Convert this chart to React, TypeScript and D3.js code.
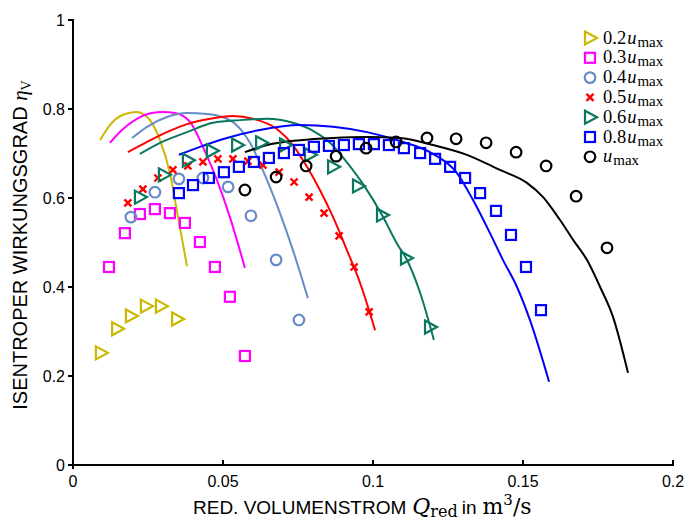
import React from "react";
import * as d3 from "d3";

// ---- data ----
const xTicks = [0, 0.05, 0.1, 0.15, 0.2];
const xTickLabels = ["0", "0.05", "0.1", "0.15", "0.2"];
const yTicks = [0, 0.2, 0.4, 0.6, 0.8, 1];
const yTickLabels = ["0", "0.2", "0.4", "0.6", "0.8", "1"];

const legendLabels = ["0.2", "0.3", "0.4", "0.5", "0.6", "0.8", ""];

// 0.2 u_max
const m02x = [0.0093, 0.0147, 0.0193, 0.0243, 0.0293, 0.0347];
const m02y = [0.252, 0.306, 0.335, 0.357, 0.357, 0.328];
const l02x = [0.009, 0.0123, 0.0167, 0.021, 0.0247, 0.029, 0.0323, 0.035, 0.038];
const l02y = [0.73, 0.764, 0.787, 0.793, 0.782, 0.73, 0.656, 0.557, 0.447];

// 0.3 u_max
const m03x = [0.012, 0.0173, 0.0223, 0.0273, 0.0323, 0.0373, 0.0423, 0.0473, 0.0523, 0.0573];
const m03y = [0.445, 0.521, 0.564, 0.575, 0.566, 0.544, 0.501, 0.445, 0.378, 0.245];
const l03x = [0.0123, 0.0163, 0.0213, 0.0263, 0.03, 0.034, 0.039, 0.0433, 0.048, 0.0523, 0.0573];
const l03y = [0.724, 0.753, 0.778, 0.791, 0.793, 0.791, 0.771, 0.715, 0.64, 0.557, 0.443];

// 0.4 u_max
const m04x = [0.0193, 0.0273, 0.0353, 0.0433, 0.0517, 0.0593, 0.0677, 0.0753];
const m04y = [0.557, 0.613, 0.643, 0.645, 0.625, 0.56, 0.461, 0.326];
const l04x = [0.0197, 0.0247, 0.0313, 0.038, 0.0447, 0.0523, 0.059, 0.0647, 0.069, 0.0733, 0.0783];
const l04y = [0.735, 0.76, 0.782, 0.791, 0.789, 0.775, 0.724, 0.64, 0.566, 0.483, 0.375];

// 0.5 u_max
const m05x = [0.0183, 0.0233, 0.0283, 0.0333, 0.0383, 0.0433, 0.0483, 0.0533, 0.0583, 0.0633, 0.0687, 0.0737, 0.0787, 0.0837, 0.0887, 0.0937, 0.0987];
const m05y = [0.589, 0.62, 0.645, 0.663, 0.672, 0.681, 0.688, 0.688, 0.683, 0.674, 0.658, 0.636, 0.602, 0.566, 0.515, 0.445, 0.344];
const l05x = [0.0183, 0.0247, 0.0313, 0.038, 0.0457, 0.0533, 0.06, 0.068, 0.0733, 0.078, 0.0823, 0.0867, 0.0913, 0.0957, 0.1007];
const l05y = [0.703, 0.726, 0.748, 0.766, 0.778, 0.784, 0.778, 0.755, 0.719, 0.67, 0.618, 0.557, 0.483, 0.409, 0.303];

// 0.6 u_max
const m06x = [0.0223, 0.0303, 0.0383, 0.0463, 0.0547, 0.0627, 0.0707, 0.079, 0.0867, 0.095, 0.103, 0.111, 0.119];
const m06y = [0.602, 0.652, 0.685, 0.706, 0.719, 0.724, 0.719, 0.697, 0.67, 0.627, 0.562, 0.465, 0.31];
const l06x = [0.0223, 0.029, 0.038, 0.0467, 0.0557, 0.0647, 0.0733, 0.08, 0.0857, 0.0907, 0.0973, 0.103, 0.1083, 0.111, 0.1157, 0.1203];
const l06y = [0.699, 0.724, 0.748, 0.769, 0.775, 0.778, 0.769, 0.751, 0.724, 0.685, 0.625, 0.562, 0.494, 0.465, 0.387, 0.281];

// 0.8 u_max
const m08x = [0.0353, 0.04, 0.0453, 0.0503, 0.0553, 0.0603, 0.0653, 0.0703, 0.0753, 0.0803, 0.0853, 0.0903, 0.0953, 0.1003, 0.1053, 0.1103, 0.1157, 0.1207, 0.1257, 0.1307, 0.1357, 0.141, 0.146, 0.151, 0.156];
const m08y = [0.611, 0.629, 0.645, 0.658, 0.67, 0.681, 0.69, 0.701, 0.708, 0.715, 0.717, 0.719, 0.721, 0.721, 0.719, 0.712, 0.701, 0.688, 0.67, 0.645, 0.611, 0.571, 0.517, 0.445, 0.348];
const l08x = [0.0353, 0.0423, 0.0513, 0.0623, 0.0757, 0.0867, 0.098, 0.109, 0.12, 0.128, 0.1333, 0.139, 0.1433, 0.148, 0.1523, 0.1587];
const l08y = [0.697, 0.715, 0.735, 0.753, 0.764, 0.76, 0.748, 0.728, 0.699, 0.656, 0.596, 0.521, 0.461, 0.4, 0.326, 0.187];

// u_max
const m10x = [0.0573, 0.0677, 0.0777, 0.0877, 0.0977, 0.1077, 0.118, 0.1277, 0.1377, 0.1477, 0.1577, 0.1677, 0.178];
const m10y = [0.618, 0.647, 0.672, 0.694, 0.712, 0.726, 0.735, 0.733, 0.724, 0.703, 0.672, 0.604, 0.488];
const l10x = [0.0573, 0.0647, 0.0757, 0.0867, 0.098, 0.109, 0.12, 0.1313, 0.1423, 0.1513, 0.1567, 0.1623, 0.1667, 0.1713, 0.1757, 0.18, 0.185];
const l10y = [0.703, 0.719, 0.73, 0.735, 0.737, 0.735, 0.719, 0.697, 0.663, 0.634, 0.602, 0.551, 0.506, 0.461, 0.4, 0.333, 0.207];

type Marker = "tri" | "sq" | "circ" | "x";
const series: { mx: number[]; my: number[]; lx: number[]; ly: number[]; color: string; marker: Marker }[] = [
  { mx: m02x, my: m02y, lx: l02x, ly: l02y, color: "#cbb800", marker: "tri" },
  { mx: m03x, my: m03y, lx: l03x, ly: l03y, color: "#ff00ff", marker: "sq" },
  { mx: m04x, my: m04y, lx: l04x, ly: l04y, color: "#668cc8", marker: "circ" },
  { mx: m05x, my: m05y, lx: l05x, ly: l05y, color: "#ff0000", marker: "x" },
  { mx: m06x, my: m06y, lx: l06x, ly: l06y, color: "#0a7860", marker: "tri" },
  { mx: m08x, my: m08y, lx: l08x, ly: l08y, color: "#0000ff", marker: "sq" },
  { mx: m10x, my: m10y, lx: l10x, ly: l10y, color: "#000000", marker: "circ" },
];

const W = 689;
const H = 522;
const x = d3.scaleLinear().domain([0, 0.2]).range([73, 673]);
const y = d3.scaleLinear().domain([0, 1]).range([465, 20]);

function MarkerShape({ kind, cx, cy, color }: { kind: Marker; cx: number; cy: number; color: string }) {
  const sw = 2.2;
  if (kind === "tri")
    return <path d={`M${cx - 5},${cy - 6.5}L${cx + 7},${cy}L${cx - 5},${cy + 6.5}Z`} fill="none" stroke={color} strokeWidth={sw} strokeLinejoin="miter" />;
  if (kind === "sq")
    return <rect x={cx - 5} y={cy - 5} width={10} height={10} fill="none" stroke={color} strokeWidth={sw} />;
  if (kind === "circ") return <circle cx={cx} cy={cy} r={5.3} fill="none" stroke={color} strokeWidth={sw} />;
  return (
    <path d={`M${cx - 3.5},${cy - 3.5}L${cx + 3.5},${cy + 3.5}M${cx - 3.5},${cy + 3.5}L${cx + 3.5},${cy - 3.5}`} stroke={color} strokeWidth={2.4} fill="none" />
  );
}

const sans = "'Liberation Sans', Arial, sans-serif";
const serif = "'Liberation Serif', 'DejaVu Serif', serif";
const mathFont = "'DejaVu Serif', 'Liberation Serif', serif";

export default function App() {
  const line = d3
    .line<[number, number]>()
    .x((d) => x(d[0]))
    .y((d) => y(d[1]))
    .curve(d3.curveMonotoneX);

  return (
    <svg width={W} height={H} style={{ position: "absolute", left: 0, top: 0, background: "#fff" }}>
      <rect width={W} height={H} fill="#fff" />
      {/* lines */}
      {series.map((s, i) => (
        <path key={"l" + i} d={line(s.lx.map((v, j) => [v, s.ly[j]] as [number, number])) || ""} fill="none" stroke={s.color} strokeWidth={2} />
      ))}
      {/* markers */}
      {series.map((s, i) =>
        s.mx.map((v, j) => <MarkerShape key={`m${i}-${j}`} kind={s.marker} cx={x(v)} cy={y(s.my[j])} color={s.color} />)
      )}
      {/* axes */}
      <line x1={x(0)} x2={x(0)} y1={y(1) - 1} y2={y(0) + 4} stroke="#000" strokeWidth={2} />
      <line x1={x(0) - 1} x2={x(0.2) + 1} y1={y(0)} y2={y(0)} stroke="#000" strokeWidth={2} />
      {yTicks.map((t, i) => (
        <g key={"yt" + i}>
          <line x1={x(0) - 5} x2={x(0)} y1={y(t)} y2={y(t)} stroke="#000" strokeWidth={2} />
          <text x={x(0) - 8} y={y(t)} dy="0.35em" textAnchor="end" fontFamily={sans} fontSize={16}>
            {yTickLabels[i]}
          </text>
        </g>
      ))}
      {xTicks.map((t, i) => (
        <g key={"xt" + i}>
          <line x1={x(t)} x2={x(t)} y1={y(0)} y2={y(0) - 5} stroke="#000" strokeWidth={2} />
          <text x={x(t)} y={y(0) + 22} textAnchor="middle" fontFamily={sans} fontSize={16}>
            {xTickLabels[i]}
          </text>
        </g>
      ))}
      {/* axis titles */}
      <text x={193} y={514} fontFamily={sans} fontSize={19}>
        <tspan>RED. VOLUMENSTROM</tspan>
        <tspan fontFamily={mathFont} fontStyle="italic" fontSize={22} dx={6}>Q</tspan>
        <tspan fontFamily={mathFont} fontSize={16} dy={3}>red</tspan>
        <tspan dy={-3} dx={4}>in</tspan>
        <tspan fontFamily={mathFont} fontSize={22} dx={6}>m</tspan>
        <tspan fontFamily={mathFont} fontSize={15} dy={-9}>3</tspan>
        <tspan fontFamily={mathFont} fontSize={22} dy={9}>/s</tspan>
      </text>
      <text transform={`translate(27,${245}) rotate(-90)`} textAnchor="middle" fontFamily={sans} fontSize={20}>
        ISENTROPER WIRKUNGSGRAD{" "}
        <tspan fontFamily={serif} fontStyle="italic" fontSize={21}>η</tspan>
        <tspan fontFamily={serif} fontSize={14} dy={4}>V</tspan>
      </text>
      {/* legend */}
      {series.map((s, i) => {
        const ly = 38 + i * 19.8;
        return (
          <g key={"lg" + i}>
            <MarkerShape kind={s.marker} cx={590} cy={ly} color={s.color} />
            <text x={603} y={ly} dy="0.3em" fontFamily={serif} fontSize={18.5}>
              {legendLabels[i]}
              <tspan fontStyle="italic" dx={legendLabels[i] ? 1 : 0}>u</tspan>
              <tspan fontSize={15} dy={3} dx={1}>max</tspan>
            </text>
          </g>
        );
      })}
    </svg>
  );
}
